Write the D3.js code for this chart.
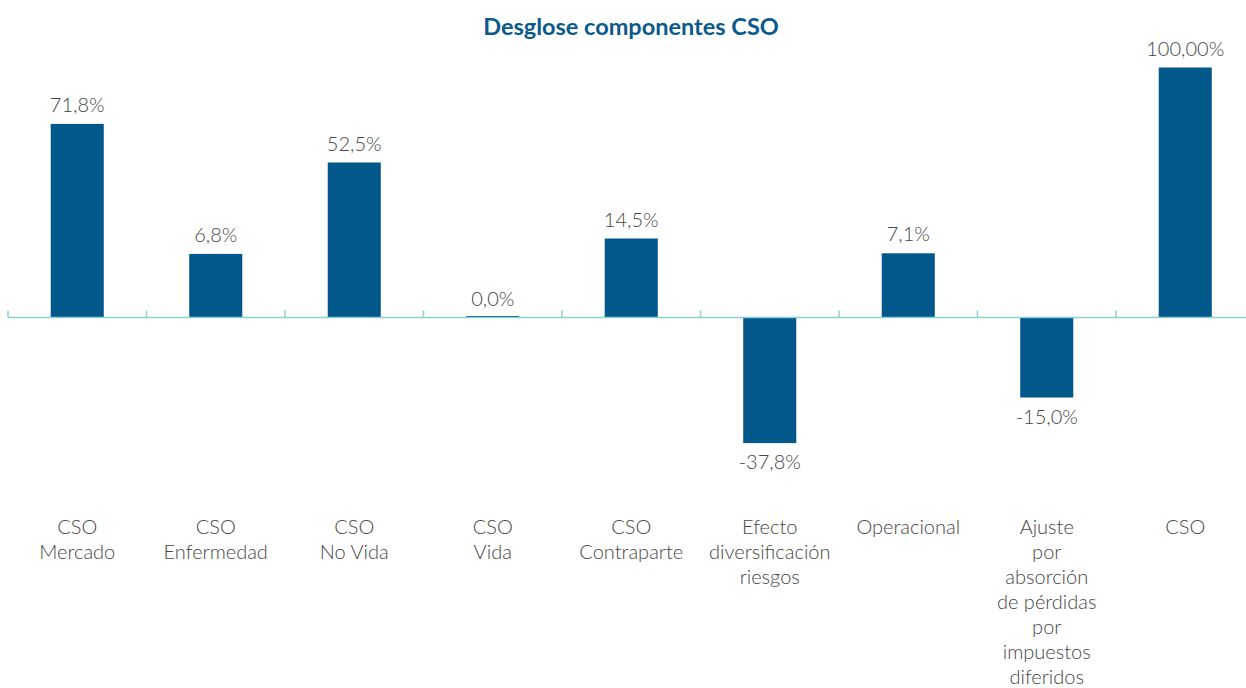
<!DOCTYPE html>
<html><head><meta charset="utf-8">
<script src="https://cdn.jsdelivr.net/npm/d3@7"></script>
<style>body{margin:0;background:#fff}svg{display:block}</style>
</head><body><svg id="c" width="1246" height="688"></svg>
<script>
// ---- data ----
const title = "Desglose componentes CSO";
const categories = [
  "CSO|Mercado",
  "CSO|Enfermedad",
  "CSO|No Vida",
  "CSO|Vida",
  "CSO|Contraparte",
  "Efecto|diversificación|riesgos",
  "Operacional",
  "Ajuste|por|absorción|de pérdidas|por|impuestos|diferidos",
  "CSO"
];
const values = [71.8, 6.8, 52.5, 0.0, 14.5, -37.8, 7.1, -15.0, 100];
const valueLabels = ["71,8%", "6,8%", "52,5%", "0,0%", "14,5%", "-37,8%", "7,1%", "-15,0%", "100,00%"];
// the source draws every non-zero bar with a constant visual base added to its length
const barBase = 25;

// ---- layout ----
const W = 1246, H = 688;
const svg = d3.select("#c");
const font = "Lato, 'Open Sans', sans-serif";
const barColor = "#02578b";
const axisColor = "#8ad0d4";
const textColor = "#464646";

const x = d3.scaleBand().domain(categories).range([8, 1254.5]).padding(0);
const y = d3.scaleLinear().domain([0, 125]).range([317.5, 67.5]);
const bw = x.bandwidth();
const barW = bw * 0.383;

svg.append("text")
  .attr("x", 631).attr("y", 35)
  .attr("text-anchor", "middle")
  .attr("font-family", font).attr("font-weight", 700).attr("font-size", 23.5)
  .attr("fill", "#0b5a8c")
  .text(title);

const ext = v => v === 0 ? 0 : Math.sign(v) * (Math.abs(v) + barBase);

svg.append("g").selectAll("rect").data(values).join("rect")
  .attr("x", (d, i) => x(categories[i]) + (bw - barW) / 2)
  .attr("width", barW)
  .attr("y", d => d === 0 ? y(0) - 1.5 : Math.min(y(0), y(ext(d))))
  .attr("height", d => d === 0 ? 1.5 : Math.abs(y(ext(d)) - y(0)))
  .attr("fill", barColor);

// axis line with ticks at band boundaries
const ax = svg.append("g");
ax.append("line").attr("x1", x(categories[0])).attr("x2", W)
  .attr("y1", y(0)).attr("y2", y(0))
  .attr("stroke", axisColor).attr("stroke-width", 1.5);
ax.selectAll("line.tk").data(categories).join("line").attr("class", "tk")
  .attr("x1", d => x(d)).attr("x2", d => x(d))
  .attr("y1", y(0) - 7).attr("y2", y(0))
  .attr("stroke", axisColor).attr("stroke-width", 1.5);

// value labels
svg.append("g").selectAll("text").data(values).join("text")
  .attr("x", (d, i) => x(categories[i]) + bw / 2)
  .attr("y", d => d < 0 ? y(ext(d)) + 26 : y(ext(d)) - 12)
  .attr("text-anchor", "middle")
  .attr("font-family", font).attr("font-weight", 300).attr("font-size", 20)
  .attr("fill", textColor)
  .text((d, i) => valueLabels[i]);

// category labels
const cl = svg.append("g").selectAll("text").data(categories).join("text")
  .attr("text-anchor", "middle")
  .attr("font-family", font).attr("font-weight", 300).attr("font-size", 20)
  .attr("fill", textColor);
cl.each(function (d) {
  const t = d3.select(this);
  d.split("|").forEach((ln, j) => {
    t.append("tspan").attr("x", x(d) + bw / 2).attr("y", 534 + j * 25).text(ln);
  });
});
</script>
</body></html>
